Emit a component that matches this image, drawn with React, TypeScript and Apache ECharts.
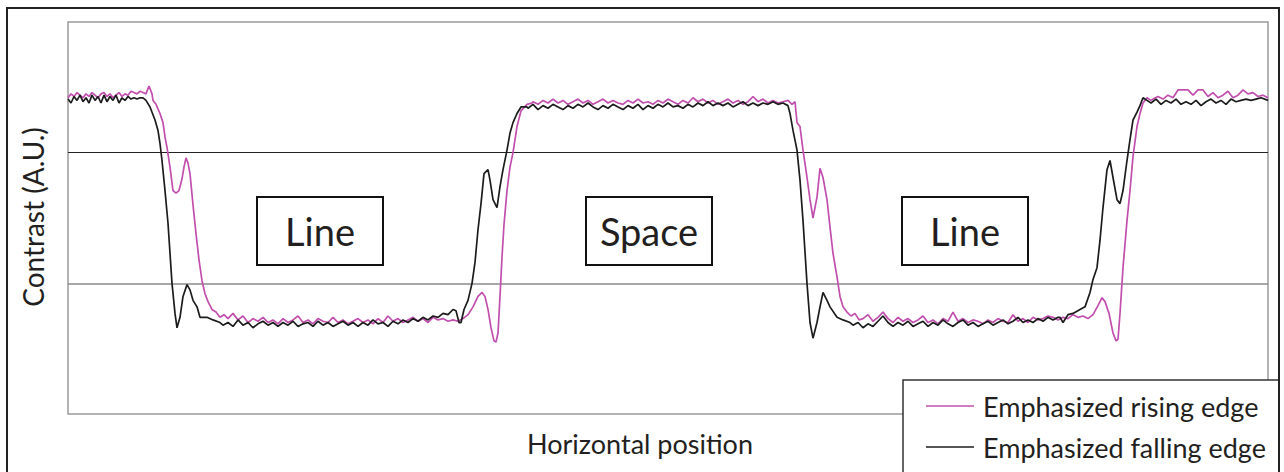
import React, { useEffect, useRef } from "react";
import * as echarts from "echarts";

// Horizontal position (0–1200) and contrast (A.U., 0–3)
const risingEdge: [number, number][] = [
  [0, 2.42], [3, 2.45], [6, 2.43], [9, 2.46], [12, 2.44], [15, 2.42], [18, 2.45], [21, 2.43], [24, 2.46], [27, 2.44],
  [30, 2.42], [33, 2.45], [36, 2.46], [39, 2.43], [42, 2.45], [45, 2.42], [48, 2.44], [51, 2.46], [54, 2.43], [57, 2.45],
  [60, 2.44], [63, 2.47], [66, 2.46], [69, 2.45], [72, 2.47], [75, 2.46], [78, 2.45], [81, 2.51], [84, 2.45], [85, 2.4],
  [88, 2.37], [92, 2.3], [95, 2.23], [97, 2.12], [99, 2.04], [102, 1.89], [105, 1.71], [108, 1.69], [111, 1.71], [114, 1.8],
  [116, 1.89], [118, 1.96], [120, 1.92], [122, 1.84], [125, 1.6], [128, 1.38], [131, 1.18], [134, 1.02], [137, 0.92], [140, 0.86],
  [144, 0.8], [148, 0.78], [152, 0.74], [156, 0.76],
  [160, 0.73], [165, 0.77], [170, 0.72], [175, 0.75], [180, 0.7], [185, 0.73], [190, 0.71], [195, 0.74], [200, 0.7], [205, 0.72],
  [210, 0.69], [215, 0.73], [220, 0.7], [225, 0.72], [230, 0.75], [235, 0.7], [240, 0.72], [245, 0.69], [250, 0.73], [255, 0.71],
  [260, 0.7], [265, 0.74], [270, 0.7], [275, 0.72], [280, 0.69], [285, 0.71], [290, 0.73], [295, 0.7], [300, 0.72], [305, 0.69],
  [310, 0.73], [315, 0.7], [320, 0.75], [325, 0.71], [330, 0.73], [335, 0.7], [340, 0.72], [345, 0.74], [350, 0.71], [355, 0.73],
  [360, 0.7], [365, 0.74], [370, 0.72], [375, 0.73], [380, 0.71], [385, 0.72], [390, 0.71], [395, 0.73],
  [400, 0.76], [405, 0.82], [410, 0.9], [414, 0.93], [417, 0.9], [420, 0.8], [423, 0.66], [426, 0.56], [428, 0.55], [430, 0.62],
  [432, 0.9], [434, 1.2], [436, 1.45], [439, 1.71], [442, 1.89], [445, 2.0], [449, 2.2], [453, 2.32], [459, 2.37], [464, 2.38],
  [465, 2.39], [470, 2.37], [475, 2.4], [480, 2.38], [485, 2.41], [490, 2.38], [495, 2.4], [500, 2.37], [505, 2.39], [510, 2.41],
  [515, 2.38], [520, 2.4], [525, 2.37], [530, 2.39], [535, 2.41], [540, 2.38], [545, 2.4], [550, 2.38], [555, 2.37], [560, 2.4],
  [565, 2.38], [570, 2.41], [575, 2.38], [580, 2.39], [585, 2.37], [590, 2.4], [595, 2.38], [600, 2.41], [605, 2.39], [610, 2.37],
  [615, 2.4], [620, 2.38], [625, 2.42], [630, 2.39], [635, 2.41], [640, 2.38], [645, 2.4], [650, 2.37], [655, 2.39], [660, 2.41],
  [665, 2.38], [670, 2.4], [675, 2.37], [680, 2.39], [685, 2.43], [690, 2.39], [695, 2.41], [700, 2.38], [705, 2.4], [710, 2.38],
  [715, 2.39], [720, 2.4], [724, 2.37], [727, 2.39], [729, 2.23], [732, 2.2], [735, 2.02], [739, 1.81], [742, 1.64], [745, 1.5],
  [749, 1.66], [752, 1.88], [755, 1.81], [759, 1.64], [762, 1.43], [765, 1.23], [769, 1.05], [772, 0.9], [775, 0.82], [779, 0.78],
  [783, 0.75], [787, 0.77], [791, 0.72],
  [795, 0.73], [800, 0.76], [805, 0.71], [810, 0.74], [815, 0.78], [820, 0.73], [825, 0.7], [830, 0.74], [835, 0.71], [840, 0.73],
  [845, 0.7], [850, 0.72], [855, 0.75], [860, 0.7], [865, 0.72], [870, 0.69], [875, 0.73], [880, 0.71], [885, 0.78], [890, 0.71],
  [895, 0.73], [900, 0.7], [905, 0.72], [910, 0.71], [915, 0.69], [920, 0.72], [925, 0.7], [930, 0.73], [935, 0.71], [940, 0.7],
  [945, 0.76], [950, 0.71], [955, 0.73], [960, 0.7], [965, 0.74], [970, 0.72], [975, 0.73], [980, 0.75], [985, 0.74], [990, 0.72],
  [995, 0.74], [1000, 0.73], [1005, 0.76], [1010, 0.74], [1015, 0.75], [1020, 0.73], [1025, 0.76], [1030, 0.83], [1034, 0.89], [1037, 0.86],
  [1041, 0.77], [1045, 0.62], [1048, 0.56], [1050, 0.57], [1052, 0.77], [1055, 1.12], [1059, 1.48], [1062, 1.71], [1065, 1.97], [1069, 2.2],
  [1072, 2.3], [1075, 2.38], [1079, 2.42], [1083, 2.4],
  [1085, 2.41], [1090, 2.43], [1095, 2.41], [1100, 2.44], [1105, 2.42], [1110, 2.48], [1115, 2.48], [1120, 2.48], [1125, 2.44], [1130, 2.48],
  [1135, 2.48], [1140, 2.43], [1145, 2.46], [1150, 2.42], [1155, 2.44], [1160, 2.47], [1165, 2.42], [1170, 2.44], [1175, 2.48], [1180, 2.45],
  [1185, 2.46], [1190, 2.43], [1195, 2.44], [1200, 2.42],
];

const fallingEdge: [number, number][] = [
  [0, 2.41], [3, 2.38], [6, 2.43], [9, 2.4], [12, 2.44], [15, 2.39], [18, 2.42], [21, 2.38], [24, 2.44], [27, 2.4],
  [30, 2.43], [33, 2.38], [36, 2.44], [39, 2.39], [42, 2.43], [45, 2.4], [48, 2.44], [51, 2.38], [54, 2.42], [57, 2.4],
  [60, 2.43], [63, 2.41], [66, 2.42], [69, 2.41], [72, 2.42], [75, 2.42], [78, 2.4], [82, 2.35], [87, 2.25], [90, 2.17],
  [92, 2.07], [94, 1.94], [97, 1.71], [100, 1.46], [102, 1.23], [104, 1.0], [107, 0.77], [109, 0.66], [112, 0.74], [115, 0.9],
  [119, 0.99], [122, 0.95], [125, 0.87], [129, 0.82], [132, 0.74], [139, 0.74], [145, 0.72], [152, 0.7],
  [155, 0.68], [160, 0.7], [165, 0.67], [170, 0.72], [175, 0.68], [180, 0.7], [185, 0.66], [190, 0.69], [195, 0.71], [200, 0.68],
  [205, 0.7], [210, 0.67], [215, 0.7], [220, 0.68], [225, 0.71], [230, 0.67], [235, 0.69], [240, 0.7], [245, 0.67], [250, 0.71],
  [255, 0.68], [260, 0.7], [265, 0.67], [270, 0.69], [275, 0.71], [280, 0.68], [285, 0.7], [290, 0.67], [295, 0.7], [300, 0.68],
  [305, 0.72], [310, 0.69], [315, 0.7], [320, 0.67], [325, 0.71], [330, 0.69], [335, 0.72], [340, 0.7], [345, 0.73], [350, 0.71],
  [355, 0.74], [360, 0.72], [365, 0.75], [370, 0.74], [375, 0.77], [380, 0.76], [385, 0.8], [388, 0.79], [391, 0.7], [393, 0.7],
  [396, 0.8], [400, 0.87], [404, 1.0], [407, 1.16], [410, 1.41], [413, 1.61], [416, 1.84], [420, 1.87], [422, 1.79], [425, 1.64],
  [429, 1.58], [432, 1.74], [435, 1.87], [439, 2.02], [442, 2.15], [445, 2.23], [449, 2.3], [453, 2.35], [459, 2.35],
  [460, 2.34], [465, 2.37], [470, 2.33], [475, 2.36], [480, 2.34], [485, 2.37], [490, 2.35], [495, 2.33], [500, 2.36], [505, 2.34],
  [510, 2.37], [515, 2.35], [520, 2.38], [525, 2.35], [530, 2.33], [535, 2.36], [540, 2.34], [545, 2.37], [550, 2.35], [555, 2.33],
  [560, 2.36], [565, 2.34], [570, 2.37], [575, 2.33], [580, 2.36], [585, 2.34], [590, 2.37], [595, 2.35], [600, 2.38], [605, 2.35],
  [610, 2.36], [615, 2.34], [620, 2.37], [625, 2.35], [630, 2.38], [635, 2.36], [640, 2.39], [645, 2.36], [650, 2.38], [655, 2.36],
  [660, 2.38], [665, 2.35], [670, 2.37], [675, 2.39], [680, 2.36], [685, 2.38], [690, 2.36], [695, 2.38], [700, 2.37], [705, 2.39],
  [710, 2.37], [715, 2.38], [720, 2.36], [722, 2.3], [725, 2.17], [729, 2.02], [732, 1.79], [735, 1.48], [739, 1.0], [742, 0.7],
  [745, 0.58], [749, 0.7], [752, 0.82], [755, 0.93], [759, 0.87], [762, 0.82], [769, 0.74], [775, 0.72], [782, 0.7],
  [785, 0.68], [790, 0.7], [795, 0.66], [800, 0.69], [805, 0.67], [810, 0.71], [815, 0.75], [820, 0.7], [825, 0.67], [830, 0.7],
  [835, 0.68], [840, 0.71], [845, 0.67], [850, 0.69], [855, 0.71], [860, 0.67], [865, 0.7], [870, 0.68], [875, 0.72], [880, 0.69],
  [885, 0.67], [890, 0.7], [895, 0.72], [900, 0.68], [905, 0.7], [910, 0.67], [915, 0.69], [920, 0.71], [925, 0.68], [930, 0.7],
  [935, 0.72], [940, 0.69], [945, 0.71], [950, 0.74], [955, 0.7], [960, 0.72], [965, 0.7], [970, 0.73], [975, 0.71], [980, 0.74],
  [985, 0.72], [990, 0.74], [992, 0.74], [995, 0.7], [1000, 0.76], [1005, 0.77], [1012, 0.8], [1017, 0.82], [1022, 0.93], [1025, 1.03],
  [1029, 1.12], [1032, 1.33], [1035, 1.58], [1039, 1.87], [1042, 1.94], [1045, 1.81], [1049, 1.64], [1052, 1.61], [1055, 1.71], [1059, 1.94],
  [1062, 2.1], [1065, 2.25], [1069, 2.31], [1072, 2.36], [1075, 2.42], [1079, 2.4],
  [1083, 2.38], [1088, 2.41], [1093, 2.37], [1098, 2.4], [1103, 2.38], [1108, 2.41], [1113, 2.37], [1118, 2.39], [1123, 2.37], [1128, 2.4],
  [1133, 2.36], [1138, 2.39], [1143, 2.41], [1148, 2.38], [1153, 2.4], [1158, 2.37], [1163, 2.41], [1168, 2.39], [1173, 2.4], [1178, 2.41],
  [1183, 2.4], [1188, 2.41], [1193, 2.42], [1200, 2.4],
];

const seriesNames = ["Emphasized rising edge", "Emphasized falling edge"];
const seriesColors = ["#c24fae", "#1c1c1c"];
const referenceLevels = [1, 2];
const regionLabels = ["Line", "Space", "Line"];
const xAxisTitle = "Horizontal position";
const yAxisTitle = "Contrast (A.U.)";

const FONT = "Lato, 'Noto Sans', sans-serif";
const INK = "#231f20";

export default function App() {
  const ref = useRef<HTMLDivElement>(null);

  useEffect(() => {
    document.body.style.margin = "0";
    if (!ref.current) return;
    const chart = echarts.init(ref.current, undefined, { renderer: "svg" });

    const boxLefts = [257, 586, 902];
    const boxW = 126;
    const boxTop = 197;
    const boxH = 68;

    const graphics: any[] = [];
    regionLabels.forEach((label, i) => {
      graphics.push({
        type: "rect",
        z: 10,
        shape: { x: boxLefts[i], y: boxTop, width: boxW, height: boxH },
        style: { fill: "#fff", stroke: "#111", lineWidth: 2 },
      });
      graphics.push({
        type: "text",
        z: 11,
        x: boxLefts[i] + boxW / 2,
        y: boxTop + boxH / 2,
        style: {
          text: label,
          fill: INK,
          font: `38px ${FONT}`,
          textAlign: "center",
          textVerticalAlign: "middle",
        },
      });
    });

    // legend box (drawn as graphics)
    graphics.push({
      type: "rect",
      z: 15,
      shape: { x: 903, y: 380, width: 376, height: 110 },
      style: { fill: "#fff", stroke: "#333", lineWidth: 1.5 },
    });
    const legendRows = [406, 447];
    seriesNames.forEach((name, i) => {
      graphics.push({
        type: "line",
        z: 17,
        shape: { x1: 926, y1: legendRows[i], x2: 974, y2: legendRows[i] },
        style: { stroke: seriesColors[i], lineWidth: 1.5 },
      });
      graphics.push({
        type: "text",
        z: 17,
        x: 983,
        y: legendRows[i],
        style: {
          text: name,
          fill: INK,
          font: `27px ${FONT}`,
          textAlign: "left",
          textVerticalAlign: "middle",
        },
      });
    });

    graphics.push(
      {
        type: "rect",
        z: 18,
        shape: { x: 7, y: 8, width: 1272, height: 480 },
        style: { fill: "none", stroke: "#222", lineWidth: 2 },
      },
      {
        type: "text",
        z: 11,
        x: 640,
        y: 443,
        style: {
          text: xAxisTitle,
          fill: INK,
          font: `27px ${FONT}`,
          textAlign: "center",
          textVerticalAlign: "middle",
        },
      },
      {
        type: "text",
        z: 11,
        x: 33,
        y: 217,
        rotation: Math.PI / 2,
        style: {
          text: yAxisTitle,
          fill: INK,
          font: `28px ${FONT}`,
          textAlign: "center",
          textVerticalAlign: "middle",
        },
      }
    );

    chart.setOption({
      animation: false,
      backgroundColor: "#fff",
      grid: {
        left: 68,
        top: 22,
        right: 16,
        bottom: 58,
        show: true,
        borderColor: "#9a9a9a",
        borderWidth: 1.5,
        backgroundColor: "transparent",
      },
      xAxis: {
        type: "value",
        min: 0,
        max: 1200,
        axisLine: { show: false },
        axisTick: { show: false },
        axisLabel: { show: false },
        splitLine: { show: false },
      },
      yAxis: {
        type: "value",
        min: 0,
        max: 3,
        interval: 1,
        axisLine: { show: false },
        axisTick: { show: false },
        axisLabel: { show: false },
        splitLine: { show: false },
      },
      graphic: graphics,
      series: [
        {
          name: seriesNames[0],
          type: "line",
          data: risingEdge,
          showSymbol: false,
          symbol: "none",
          lineStyle: { color: seriesColors[0], width: 1.7 },
          itemStyle: { color: seriesColors[0] },
          z: 3,
          markLine: {
            silent: true,
            symbol: "none",
            label: { show: false },
            z: 1,
            data: referenceLevels.map((lv, i) => ({
              yAxis: lv,
              lineStyle: { color: i === 0 ? "#8a8a8a" : "#222", width: i === 0 ? 1.6 : 1, type: "solid" },
            })),
          },
        },
        {
          name: seriesNames[1],
          type: "line",
          data: fallingEdge,
          showSymbol: false,
          symbol: "none",
          lineStyle: { color: seriesColors[1], width: 1.7 },
          itemStyle: { color: seriesColors[1] },
          z: 4,
        },
      ],
    });

    return () => chart.dispose();
  }, []);

  return <div ref={ref} style={{ width: 1284, height: 472 }} />;
}
